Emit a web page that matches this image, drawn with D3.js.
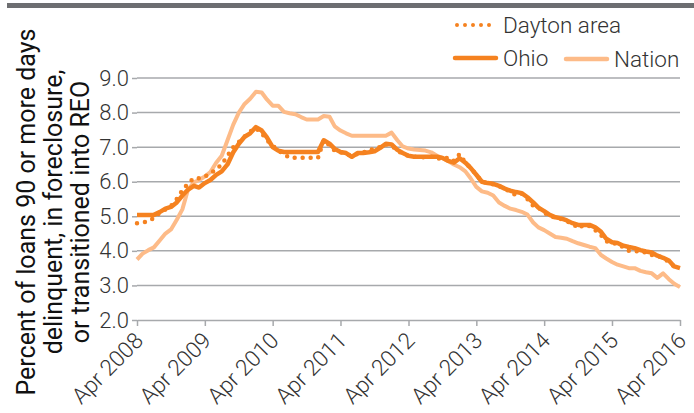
<!DOCTYPE html>
<html><head><meta charset="utf-8">
<script src="https://cdn.jsdelivr.net/npm/d3@7"></script>
<style>
body{margin:0;background:#fff;}
svg text{font-family:"Roboto","Liberation Sans",Arial,sans-serif;}
</style></head>
<body><svg id="c" width="694" height="413"></svg>
<script>
// Monthly series, Apr 2008 .. Apr 2016 (97 months)
const startYear = 2008, startMonth = 3; // April
const seriesNames = ["Dayton area", "Ohio", "Nation"];
const dayton = [4.80,4.82,4.85,4.95,5.10,5.20,5.30,5.50,5.75,5.95,6.10,6.10,6.15,6.25,6.35,6.50,6.75,7.00,7.15,7.30,7.45,7.55,7.40,7.20,
7.05,6.90,6.80,6.69,6.69,6.69,6.69,6.69,6.69,7.20,7.05,6.90,
6.85,6.80,6.75,6.80,6.85,6.88,6.98,7.00,7.08,7.05,6.90,6.80,
6.75,6.72,6.72,6.70,6.72,6.68,6.65,6.70,6.60,6.80,6.55,6.40,
6.20,6.00,5.96,5.92,5.88,5.78,5.72,5.60,5.65,5.50,5.30,5.25,
5.10,5.02,4.95,4.92,4.85,4.80,4.65,4.75,4.72,4.60,4.45,4.28,
4.22,4.20,4.10,4.00,3.98,4.00,3.95,3.88,3.85,3.80,3.68,3.55,3.48];
const ohio = [5.04,5.04,5.04,5.04,5.12,5.22,5.27,5.40,5.60,5.77,5.88,5.83,5.96,6.05,6.20,6.30,6.50,6.85,7.10,7.30,7.40,7.58,7.48,7.28,
7.00,6.90,6.86,6.86,6.86,6.86,6.86,6.86,6.86,7.20,7.10,6.95,
6.86,6.83,6.72,6.83,6.83,6.85,6.88,6.98,7.10,7.08,6.92,6.83,
6.75,6.72,6.72,6.72,6.72,6.72,6.69,6.60,6.55,6.68,6.55,6.40,
6.20,6.00,5.96,5.94,5.88,5.80,5.74,5.70,5.67,5.55,5.40,5.25,
5.15,5.04,4.97,4.94,4.88,4.80,4.75,4.75,4.75,4.68,4.55,4.35,
4.25,4.23,4.15,4.11,4.08,4.02,3.98,3.95,3.86,3.80,3.72,3.55,3.50];
const nation = [3.75,3.92,4.02,4.10,4.30,4.50,4.62,4.90,5.20,5.78,5.98,6.05,6.15,6.28,6.55,6.75,7.20,7.65,8.00,8.25,8.40,8.60,8.58,8.38,
8.20,8.20,8.02,7.98,7.95,7.87,7.80,7.80,7.80,7.90,7.88,7.60,
7.48,7.40,7.33,7.33,7.33,7.33,7.33,7.33,7.33,7.42,7.20,7.02,
6.96,6.93,6.92,6.90,6.85,6.75,6.68,6.60,6.50,6.42,6.30,6.10,
5.85,5.72,5.68,5.60,5.40,5.30,5.22,5.18,5.13,5.05,4.82,4.68,
4.60,4.50,4.40,4.38,4.35,4.28,4.22,4.17,4.12,4.08,3.88,3.78,
3.68,3.60,3.55,3.50,3.50,3.42,3.38,3.35,3.22,3.35,3.18,3.05,2.95];
const yTicks = [2,3,4,5,6,7,8,9];
const xTickLabels = ["Apr 2008","Apr 2009","Apr 2010","Apr 2011","Apr 2012","Apr 2013","Apr 2014","Apr 2015","Apr 2016"];
const yTitle = ["Percent of loans 90 or more days","delinquent, in foreclosure,","or transitioned into REO"];

const colors = {dark:"#f58220", light:"#fdbb88", grid:"#a7a9ac", text:"#333333"};
const svg = d3.select("#c");
const L = 137, R = 680, T = 78, B = 320;
const dates = ohio.map((_, i) => new Date(startYear, startMonth + i, 1));
const x = d3.scaleTime().domain([new Date(startYear, startMonth, 1), new Date(startYear + 8, startMonth, 1)]).range([L, R]);
const y = d3.scaleLinear().domain([2, 9]).range([B, T]);

// top bar
svg.append("rect").attr("x", 7).attr("y", 3).attr("width", 687).attr("height", 5).attr("fill", "#6d6e71");

// gridlines
svg.append("g").selectAll("line").data(yTicks.filter(d => d > 2)).join("line")
  .attr("x1", L).attr("x2", R).attr("y1", d => y(d)).attr("y2", d => y(d))
  .attr("stroke", colors.grid).attr("stroke-width", 1.5);

// y axis
const yAxis = svg.append("g").attr("transform", `translate(${L},0)`)
  .call(d3.axisLeft(y).tickValues(yTicks).tickFormat(d3.format(".1f")).tickSize(5).tickPadding(3));
yAxis.select(".domain").remove();
yAxis.selectAll(".tick line").attr("stroke", colors.grid).attr("stroke-width", 1.5);
yAxis.selectAll(".tick text").attr("fill", colors.text).attr("font-size", 22).attr("font-weight", 300);

// x axis
const xTickDates = xTickLabels.map((_, i) => new Date(startYear + i, startMonth, 1));
const xAxis = svg.append("g").attr("transform", `translate(0,${B})`)
  .call(d3.axisBottom(x).tickValues(xTickDates).tickFormat((d, i) => xTickLabels[i]).tickSize(6).tickSizeOuter(0));
xAxis.select(".domain").attr("stroke", colors.grid).attr("stroke-width", 1.5);
xAxis.selectAll(".tick line").attr("stroke", colors.grid).attr("stroke-width", 1.5);
xAxis.selectAll(".tick text").attr("fill", colors.text).attr("font-size", 22.5).attr("font-weight", 300)
  .attr("text-anchor", "end").attr("dy", null).attr("y", 0)
  .attr("transform", "translate(7,22) rotate(-45)");

// y title
const yt = svg.append("text").attr("transform", "translate(35,212) rotate(-90)")
  .attr("text-anchor", "middle").attr("font-size", 25).attr("fill", "#111");
yTitle.forEach((t, i) => yt.append("tspan").attr("x", 0).attr("dy", i === 0 ? 0 : 27).text(t));

// lines
const line = d3.line().x((d, i) => x(dates[i])).y(d => y(d));
svg.append("path").datum(nation).attr("d", line).attr("fill", "none")
  .attr("stroke", colors.light).attr("stroke-width", 4).attr("stroke-linejoin", "round");
svg.append("path").datum(ohio).attr("d", line).attr("fill", "none")
  .attr("stroke", colors.dark).attr("stroke-width", 4.5).attr("stroke-linejoin", "round");
svg.append("path").datum(dayton).attr("d", line).attr("fill", "none")
  .attr("stroke", colors.dark).attr("stroke-width", 4.5).attr("stroke-linecap", "round")
  .attr("stroke-dasharray", "0,8");

// legend
const lg = svg.append("g");
lg.append("line").attr("x1", 457).attr("x2", 495).attr("y1", 25).attr("y2", 25)
  .attr("stroke", colors.dark).attr("stroke-width", 4).attr("stroke-linecap", "round").attr("stroke-dasharray", "0,8");
lg.append("text").attr("x", 503).attr("y", 33).attr("font-size", 22.5).attr("font-weight", 300).attr("fill", colors.text).text(seriesNames[0]);
lg.append("line").attr("x1", 455).attr("x2", 496).attr("y1", 58).attr("y2", 58)
  .attr("stroke", colors.dark).attr("stroke-width", 4.5).attr("stroke-linecap", "round");
lg.append("text").attr("x", 503).attr("y", 66).attr("font-size", 22.5).attr("font-weight", 300).attr("fill", colors.text).text(seriesNames[1]);
lg.append("line").attr("x1", 566).attr("x2", 607).attr("y1", 59).attr("y2", 59)
  .attr("stroke", colors.light).attr("stroke-width", 4.5).attr("stroke-linecap", "round");
lg.append("text").attr("x", 614).attr("y", 67).attr("font-size", 22.5).attr("font-weight", 300).attr("fill", colors.text).text(seriesNames[2]);
</script></body></html>
